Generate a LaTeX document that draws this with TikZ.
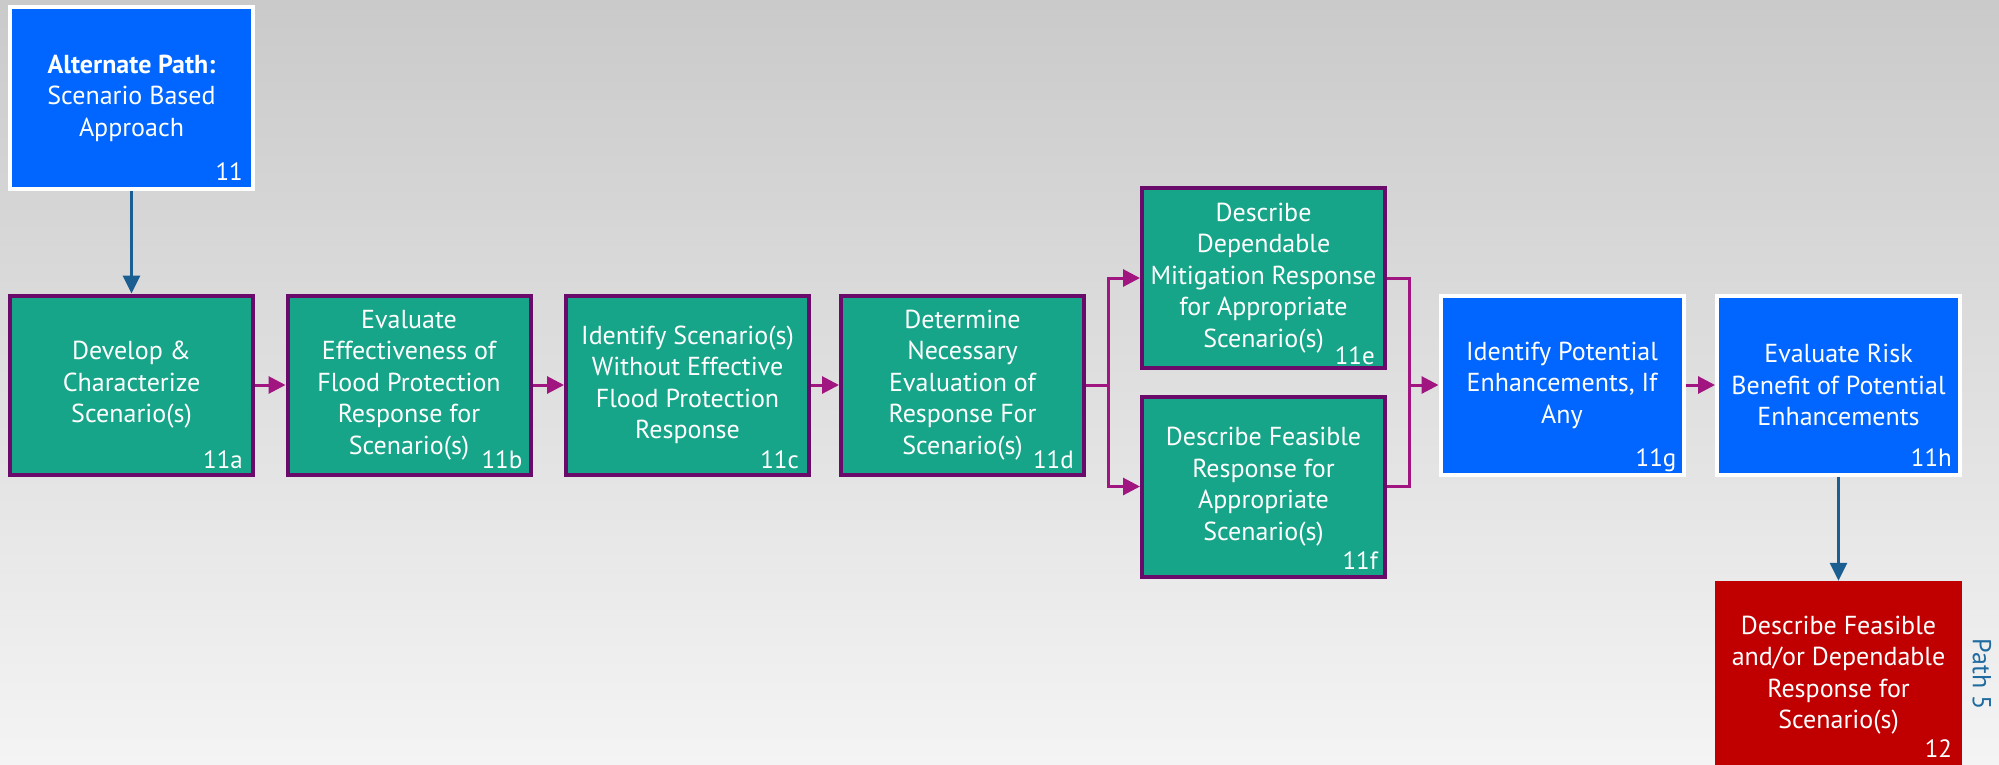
\documentclass[tikz,border=0pt]{standalone}
\usepackage{fontspec}
\setmainfont{PT Sans}
\usetikzlibrary{arrows.meta,calc}
\definecolor{bgtop}{HTML}{CACACA}
\definecolor{bgbot}{HTML}{F4F4F4}
\definecolor{boxblue}{HTML}{0066FF}
\definecolor{boxteal}{HTML}{17A589}
\definecolor{boxred}{HTML}{C00000}
\definecolor{bordpurple}{HTML}{6A0A6A}
\definecolor{linkmag}{HTML}{A0157F}
\definecolor{linkblue}{HTML}{1B5E91}
\definecolor{pathblue}{HTML}{1F6BA0}
\begin{document}
\begin{tikzpicture}[x=1pt,y=-1pt,
  box/.style={rectangle, minimum width=243pt, minimum height=179pt, inner sep=0pt, align=center, text=white, font=\fontsize{26}{31.5}\selectfont},
  bluebox/.style={box, fill=boxblue, draw=white, line width=4pt},
  tealbox/.style={box, fill=boxteal, draw=bordpurple, line width=4pt},
  redbox/.style={box, fill=boxred},
  num/.style={text=white, font=\fontsize{25}{30}\selectfont, inner sep=0pt, anchor=base east},
  marrow/.style={draw=linkmag, line width=3pt, -{Triangle[length=17pt,width=17pt]}},
  mline/.style={draw=linkmag, line width=3pt},
  barrow/.style={draw=linkblue, line width=3pt, -{Triangle[length=18pt,width=17pt]}}
]
\fill[top color=bgtop, bottom color=bgbot] (0,0) rectangle (1999,764);
\useasboundingbox (0,0) rectangle (1999,764);

\node[bluebox, minimum height=182pt] (n11) at (131.5,98) {\textbf{Alternate Path:}\\Scenario Based\\Approach};
\node[tealbox] (a) at (131.5,385) {Develop \&\\Characterize\\Scenario(s)};
\node[tealbox] (b) at (409,385) {Evaluate\\Effectiveness of\\Flood Protection\\Response for\\Scenario(s)};
\node[tealbox] (c) at (687.5,385) {Identify Scenario(s)\\Without Effective\\Flood Protection\\Response};
\node[tealbox] (d) at (962.5,385) {Determine\\Necessary\\Evaluation of\\Response For\\Scenario(s)};
\node[tealbox, minimum height=180pt] (e) at (1263.5,278) {Describe\\Dependable\\Mitigation Response\\for Appropriate\\Scenario(s)};
\node[tealbox, minimum height=180pt] (f) at (1263.5,486.5) {Describe Feasible\\Response for\\Appropriate\\Scenario(s)};
\node[bluebox] (g) at (1562,385) {Identify Potential\\Enhancements, If\\Any};
\node[bluebox] (h) at (1838.5,385) {Evaluate Risk\\Benefit of Potential\\Enhancements};
\node[redbox, minimum width=247pt, minimum height=188pt] (r) at (1838.5,675) {Describe Feasible\\and/or Dependable\\Response for\\Scenario(s)};

\node[num] (l11) at ($(n11.south east)+(-12,-11)$) {11};
\node[num] (la) at ($(a.south east)+(-12,-8)$) {11a};
\node[num] (lb) at ($(b.south east)+(-10,-8)$) {11b};
\node[num] (lc) at ($(c.south east)+(-12,-8)$) {11c};
\node[num] (ld) at ($(d.south east)+(-12,-8)$) {11d};
\node[num] (le) at ($(e.south east)+(-12,-6)$) {11e};
\node[num] (lf) at ($(f.south east)+(-9,-9)$) {11f};
\node[num] (lg) at ($(g.south east)+(-9,-10)$) {11g};
\node[num] (lh) at ($(h.south east)+(-10,-10)$) {11h};
\node[num] (lr) at ($(r.south east)+(-10,-12)$) {12};

\node[rotate=-90, text=pathblue, font=\fontsize{26}{30}\selectfont, inner sep=0pt] (p5) at (1982,674) {Path 5};

\draw[barrow] (n11.south) -- (a.north);
\draw[marrow] (a.east) -- (b.west);
\draw[marrow] (b.east) -- (c.west);
\draw[marrow] (c.east) -- (d.west);
\coordinate (br) at (1108,385);
\coordinate (mg) at (1409,385);
\draw[mline] (d.east) -- (br);
\draw[marrow] (br) |- (e.west);
\draw[marrow] (br) |- (f.west);
\draw[mline] (e.east) -| (mg);
\draw[mline] (f.east) -| (mg);
\draw[marrow] (mg) -- (g.west);
\draw[marrow] (g.east) -- (h.west);
\draw[barrow] (h.south) -- (r.north);
\end{tikzpicture}
\end{document}
